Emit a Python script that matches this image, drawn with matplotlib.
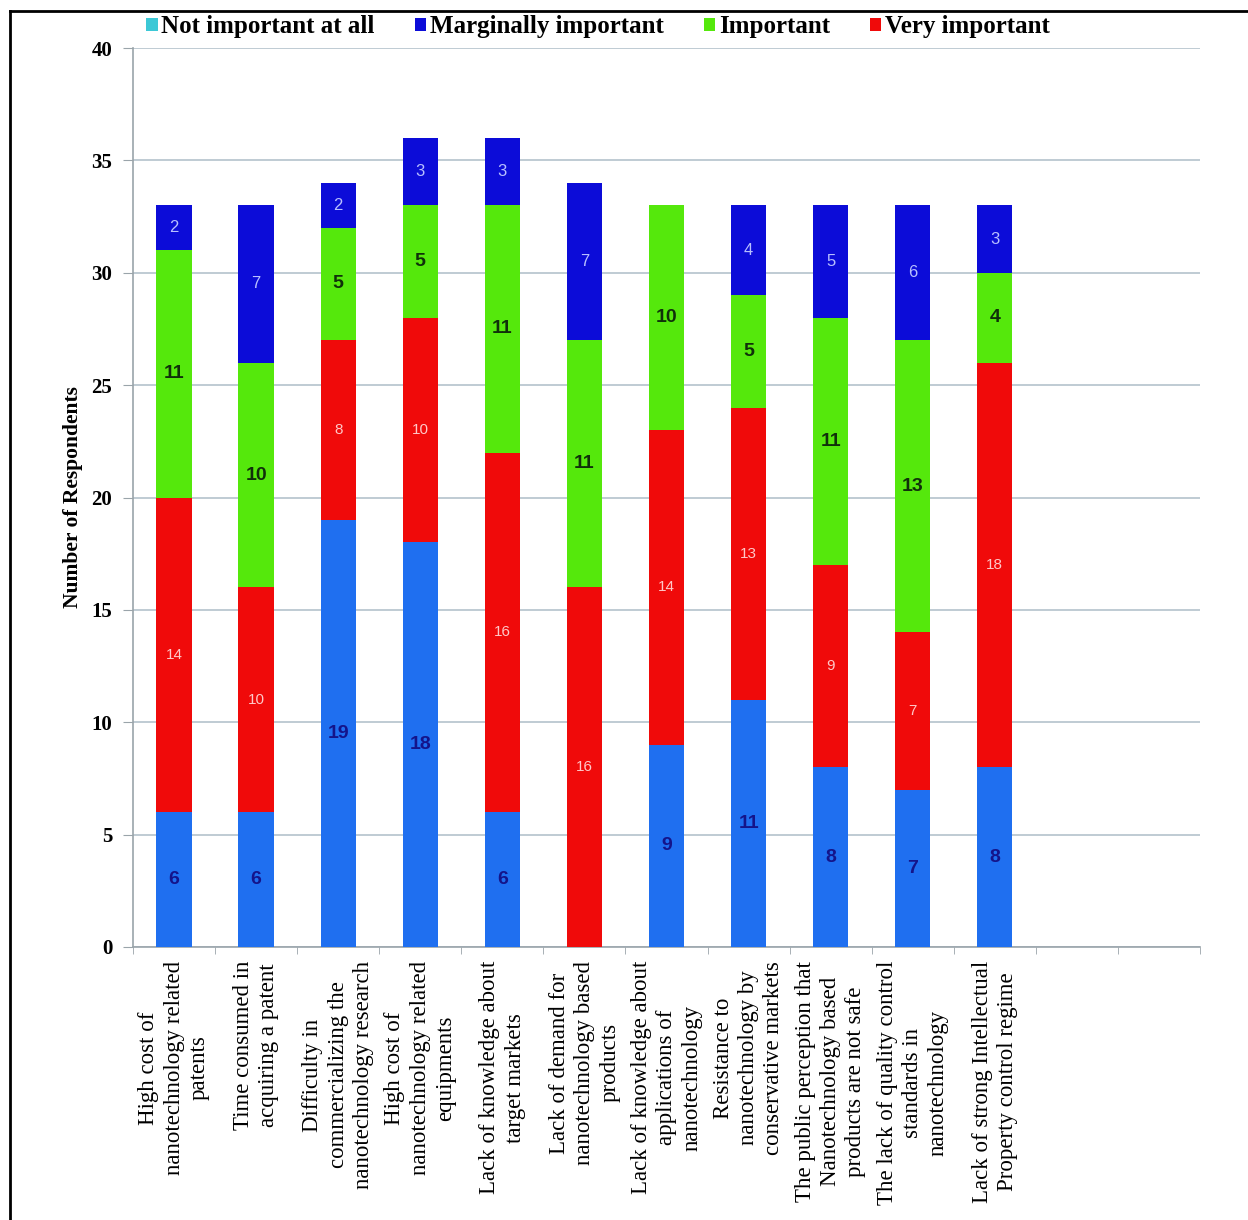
import matplotlib.pyplot as plt
from matplotlib.lines import Line2D
import numpy as np

categories = [
    "High cost of\nnanotechnology related\npatents",
    "Time consumed in\nacquiring a patent",
    "Difficulty in\ncommercializing the\nnanotechnology research",
    "High cost of\nnanotechnology related\nequipments",
    "Lack of knowledge about\ntarget markets",
    "Lack of demand for\nnanotechnology based\nproducts",
    "Lack of knowledge about\napplications of\nnanotechnology",
    "Resistance to\nnanotechnology by\nconservative markets",
    "The public perception that\nNanotechnology based\nproducts are not safe",
    "The lack of quality control\nstandards in\nnanotechnology",
    "Lack of strong Intellectual\nProperty control regime",
    "",
    "",
]

# stacked from the bottom up
extremely = [6, 6, 19, 18, 6, 0, 9, 11, 8, 7, 8]
very = [14, 10, 8, 10, 16, 16, 14, 13, 9, 7, 18]
important = [11, 10, 5, 5, 11, 11, 10, 5, 11, 13, 4]
marginal = [2, 7, 2, 3, 3, 7, 0, 4, 5, 6, 3]
not_at_all = [0, 0, 0, 0, 0, 0, 0, 0, 0, 0, 0]

yticks = [0, 5, 10, 15, 20, 25, 30, 35, 40]

plt.rcParams['font.family'] = ['Liberation Serif', 'DejaVu Serif']

fig = plt.figure(figsize=(12.48, 12.2), dpi=100)
W, H = 1248, 1220
ax = fig.add_axes([133 / W, 1 - 947 / H, (1200 - 133) / W, (947 - 48) / H])

n = len(extremely)
x = np.arange(n)
width = 0.43

series = [
    (extremely, '#1f6ff0', '_nolegend_', dict(color='#14148a', fontsize=14, fontweight='bold', family='Liberation Sans')),
    (very, '#f00a0a', 'Very important', dict(color='#ffc8c8', fontsize=11, family='Liberation Sans')),
    (important, '#55e80c', 'Important', dict(color='#10300a', fontsize=14, fontweight='bold', family='Liberation Sans')),
    (marginal, '#0c0cd8', 'Marginally important', dict(color='#b8c0ff', fontsize=12, family='Liberation Sans')),
    (not_at_all, '#3cc8d6', 'Not important at all', None),
]

bottom = np.zeros(n)
bars = {}
for vals, color, label, txt in series:
    vals = np.array(vals, dtype=float)
    b = ax.bar(x, vals, width, bottom=bottom, color=color, label=label, zorder=3)
    bars[label] = b
    if txt is not None:
        for xi, v, b0 in zip(x, vals, bottom):
            if v > 0:
                ax.text(xi, b0 + v / 2, f"{int(v)}", ha='center', va='center', zorder=4, **txt)
    bottom += vals

ax.set_xlim(-0.5, len(categories) - 0.5)
ax.set_ylim(0, 40)
ax.set_yticks(yticks)
ax.set_yticklabels([str(t) for t in yticks], fontsize=15, fontweight='bold')
ax.yaxis.grid(True, color='#b4c2cc', linewidth=1.2, zorder=0)
ax.set_axisbelow(True)

ax.set_xticks(np.arange(len(categories)))
ax.set_xticklabels(categories, rotation=90, fontsize=16.5, ha='center', va='top',
                   multialignment='center', linespacing=1.27)
ax.tick_params(axis='x', which='major', length=0, pad=10)
ax.set_xticks(np.arange(len(categories) + 1) - 0.5, minor=True)
ax.tick_params(axis='x', which='minor', length=5, color='#9aa4aa')
ax.tick_params(axis='y', length=7, color='#9aa4aa', pad=8)

for side in ('top', 'right'):
    ax.spines[side].set_visible(False)
for side in ('left', 'bottom'):
    ax.spines[side].set_color('#9aa4aa')
    ax.spines[side].set_linewidth(1.2)

ax.set_ylabel("Number of Respondents", fontsize=15.5, fontweight='bold', labelpad=6)

handles = [bars['Not important at all'], bars['Marginally important'],
           bars['Important'], bars['Very important']]
fig.legend(handles, [h.get_label() for h in handles], loc='center',
           bbox_to_anchor=(598 / W, 1 - 27 / H), ncol=4, frameon=False,
           prop=dict(size=18, weight='bold'), handlelength=0.45, handleheight=0.45,
           handletextpad=0.15, columnspacing=1.6, borderaxespad=0)

# outer frame
fig.add_artist(Line2D([10 / W, 10 / W], [0, 1 - 11 / H], color='black', linewidth=2,
                      transform=fig.transFigure))
fig.add_artist(Line2D([10 / W, 1], [1 - 11 / H, 1 - 11 / H], color='black', linewidth=2,
                      transform=fig.transFigure))

fig.savefig('out.png', dpi=100)
